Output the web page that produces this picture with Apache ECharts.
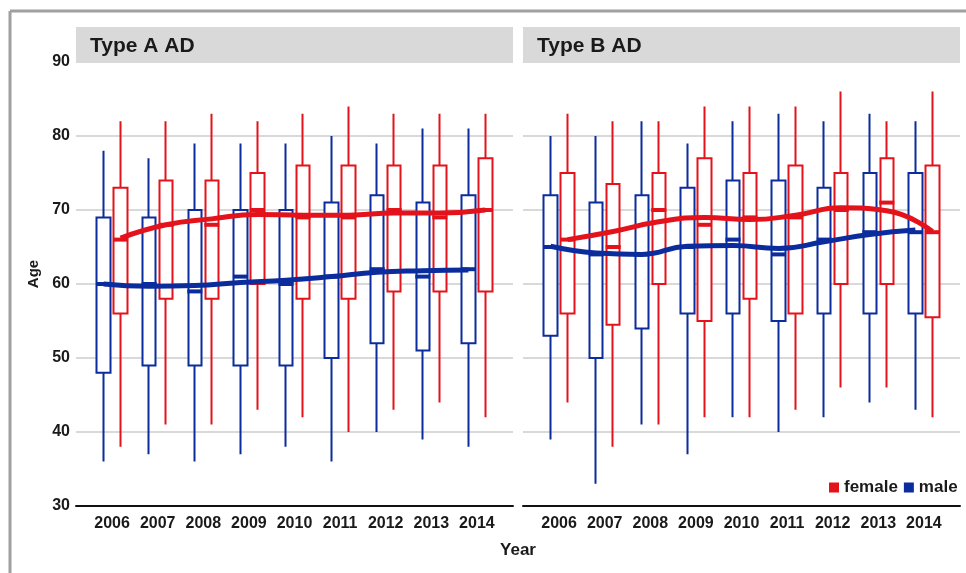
<!DOCTYPE html>
<html><head><meta charset="utf-8">
<script src="https://cdn.jsdelivr.net/npm/echarts@6/dist/echarts.min.js"></script>
<style>html,body{margin:0;padding:0;background:#fff}#c{width:966px;height:573px}</style>
</head><body><div id="c"></div>
<script>
const years = ['2006','2007','2008','2009','2010','2011','2012','2013','2014'];
const yTicks = [30, 40, 50, 60, 70, 80, 90];
const panels = ['Type A AD', 'Type B AD'];

// Type A AD – male
const aMaleLow  = [36, 37, 36, 37, 38, 36, 40, 39, 38];
const aMaleQ1   = [48, 49, 49, 49, 49, 50, 52, 51, 52];
const aMaleMed  = [60, 60, 59, 61, 60, 61, 62, 61, 62];
const aMaleQ3   = [69, 69, 70, 70, 70, 71, 72, 71, 72];
const aMaleHigh = [78, 77, 79, 79, 79, 80, 79, 81, 81];
const aMaleTrend = [60.0, 59.7, 59.8, 60.2, 60.5, 61.0, 61.6, 61.8, 61.9];
// Type A AD – female
const aFemLow  = [38, 41, 41, 43, 42, 40, 43, 44, 42];
const aFemQ1   = [56, 58, 58, 60, 58, 58, 59, 59, 59];
const aFemMed  = [66, 68, 68, 70, 69, 69, 70, 69, 70];
const aFemQ3   = [73, 74, 74, 75, 76, 76, 76, 76, 77];
const aFemHigh = [82, 82, 83, 82, 83, 84, 83, 83, 83];
const aFemTrend = [66.2, 68.0, 68.8, 69.4, 69.3, 69.3, 69.6, 69.6, 70.0];

// Type B AD – male
const bMaleLow  = [39, 33, 41, 37, 42, 40, 42, 44, 43];
const bMaleQ1   = [53, 50, 54, 56, 56, 55, 56, 56, 56];
const bMaleMed  = [65, 64, 64, 65, 66, 64, 66, 67, 67];
const bMaleQ3   = [72, 71, 72, 73, 74, 74, 73, 75, 75];
const bMaleHigh = [80, 80, 82, 79, 82, 83, 82, 83, 82];
const bMaleTrend = [65.1, 64.2, 64.0, 65.1, 65.2, 64.8, 65.7, 66.7, 67.3];
// Type B AD – female
const bFemLow  = [44, 38, 41, 42, 42, 43, 46, 46, 42];
const bFemQ1   = [56, 54.5, 60, 55, 58, 56, 60, 60, 55.5];
const bFemMed  = [66, 65, 70, 68, 69, 69, 70, 71, 67];
const bFemQ3   = [75, 73.5, 75, 77, 75, 76, 75, 77, 76];
const bFemHigh = [83, 82, 82, 84, 84, 84, 86, 82, 86];
const bFemTrend = [66.0, 67.1, 68.4, 69.0, 68.7, 69.3, 70.3, 69.9, 67.1];

const RED = '#e3121b', BLUE = '#0b2c9c';
const FONT = "'Liberation Sans',Arial,sans-serif";
const TXT = '#1a1a1a';

const TOP = 62, H = 444, PW = 437, STEP = 45.6, DODGE = 8.5;
const panelLeft = [76, 523];

const grids = [], xAxes = [], yAxes = [], series = [];
function addGrid(left, width) {
  grids.push({left: left, top: TOP, width: width, height: H});
  return grids.length - 1;
}
const groups = [
  {m: [aMaleLow, aMaleQ1, aMaleMed, aMaleQ3, aMaleHigh, aMaleTrend],
   f: [aFemLow, aFemQ1, aFemMed, aFemQ3, aFemHigh, aFemTrend]},
  {m: [bMaleLow, bMaleQ1, bMaleMed, bMaleQ3, bMaleHigh, bMaleTrend],
   f: [bFemLow, bFemQ1, bFemMed, bFemQ3, bFemHigh, bFemTrend]}
];

panelLeft.forEach((pl, p) => {
  // background grid: gridlines + axis line
  const g0 = addGrid(pl, PW);
  xAxes.push({gridIndex: g0, type: 'value', min: 0, max: 1, position: 'bottom',
    axisLine: {show: true, onZero: false, lineStyle: {color: '#111', width: 2}},
    axisTick: {show: false}, axisLabel: {show: false}, splitLine: {show: false}});
  yAxes.push({gridIndex: g0, type: 'value', min: yTicks[0], max: yTicks[yTicks.length - 1], interval: 10,
    axisLine: {show: false}, axisTick: {show: false},
    axisLabel: {show: p === 0, margin: 6, color: TXT, fontSize: 16, fontWeight: 'bold', fontFamily: FONT},
    splitLine: {show: true, lineStyle: {color: '#d9d9d9', width: 2}}});
  // label grid
  const catLeft = pl + (PW - STEP * years.length) / 2;
  const g1 = addGrid(catLeft, STEP * years.length);
  xAxes.push({gridIndex: g1, type: 'category', data: years, position: 'bottom',
    axisLine: {show: false}, axisTick: {show: false}, splitLine: {show: false},
    axisLabel: {interval: 0, margin: 10, color: TXT, fontSize: 16, fontWeight: 'bold', fontFamily: FONT}});
  yAxes.push({gridIndex: g1, type: 'value', min: 30, max: 90, show: false});
  // male / female grids
  [['m', -DODGE, BLUE, 'male'], ['f', DODGE, RED, 'female']].forEach(([key, off, col, nm]) => {
    const g = addGrid(catLeft + off, STEP * years.length);
    xAxes.push({gridIndex: g, type: 'category', data: years, show: false});
    yAxes.push({gridIndex: g, type: 'value', min: 30, max: 90, show: false});
    const d = groups[p][key];
    series.push({
      type: 'candlestick', xAxisIndex: g, yAxisIndex: g, barWidth: 14, z: 2,
      data: years.map((_, i) => [d[1][i], d[3][i], d[0][i], d[4][i]]),
      itemStyle: {color: '#fff', color0: '#fff', borderColor: col, borderColor0: col, borderWidth: 2},
      emphasis: {disabled: true}, silent: true
    });
    series.push({
      type: 'scatter', xAxisIndex: g, yAxisIndex: g, symbol: 'rect', symbolSize: [15, 4], z: 4,
      data: d[2], itemStyle: {color: col, opacity: 1}, emphasis: {disabled: true}, silent: true
    });
    series.push({
      name: nm, type: 'line', xAxisIndex: g, yAxisIndex: g, smooth: 0.5, showSymbol: false, z: 5,
      data: d[5], lineStyle: {color: col, width: 5}, itemStyle: {color: col}, silent: true
    });
  });
});

const graphics = [
  {type: 'line', shape: {x1: 10, y1: 11, x2: 966, y2: 11}, style: {stroke: '#a0a0a0', lineWidth: 3}, z: 100},
  {type: 'line', shape: {x1: 10, y1: 11, x2: 10, y2: 573}, style: {stroke: '#a0a0a0', lineWidth: 3}, z: 100}
];
panelLeft.forEach((pl, p) => {
  graphics.push({type: 'rect', shape: {x: pl, y: 27, width: PW, height: 36}, style: {fill: '#d9d9d9'}, z: 100});
  graphics.push({type: 'text', x: pl + 14, y: 46, z: 101,
    style: {text: panels[p], fill: TXT, font: 'bold 21px ' + FONT, textVerticalAlign: 'middle'}});
});
graphics.push({type: 'text', x: 34, y: 274, rotation: Math.PI / 2, z: 101,
  style: {text: 'Age', fill: TXT, font: 'bold 15px ' + FONT, textAlign: 'center', textVerticalAlign: 'middle'}});
graphics.push({type: 'text', x: 518, y: 550, z: 101,
  style: {text: 'Year', fill: TXT, font: 'bold 17px ' + FONT, textAlign: 'center', textVerticalAlign: 'middle'}});

const chart = echarts.init(document.getElementById('c'));
chart.setOption({
  animation: false,
  backgroundColor: '#fff',
  grid: grids, xAxis: xAxes, yAxis: yAxes, series: series,
  legend: {
    left: 829, top: 479, padding: 0, itemGap: 6, itemWidth: 10, itemHeight: 10, selectedMode: false,
    textStyle: {color: TXT, fontSize: 17, fontWeight: 'bold', fontFamily: FONT},
    data: [{name: 'female', icon: 'rect', itemStyle: {color: RED}},
           {name: 'male', icon: 'rect', itemStyle: {color: BLUE}}]
  },
  graphic: graphics
});
</script></body></html>
